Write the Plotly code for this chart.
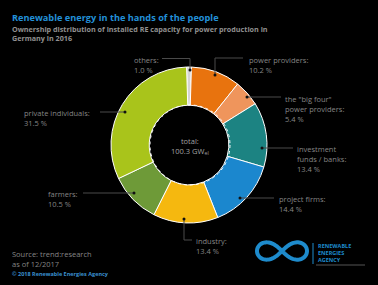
import numpy as np
import plotly.graph_objects as go

W, H = 378, 285

# ---- data ----
categories = ["others", "power providers", "the \"big four\"<br>power providers",
              "investment<br>funds / banks", "project firms", "industry",
              "farmers", "private individuals"]
shares = [1.0, 10.2, 5.4, 13.4, 14.4, 13.4, 10.5, 31.5]
share_labels = ["1.0 %", "10.2 %", "5.4 %", "13.4 %", "14.4 %", "13.4 %", "10.5 %", "31.5 %"]
colors = ["#d4d4d4", "#e8730e", "#ef955c", "#1c8382", "#1b87ce", "#f5b80f", "#6e9a38", "#a9c41b"]
total_label = "100.3 GW<sub>el</sub>"

def px(x):
    return x / W

def py(y):
    return 1 - y / H

cx, cy, R = 189, 145, 78

fig = go.Figure()
fig.add_trace(go.Pie(
    labels=categories, values=shares, sort=False, direction="clockwise",
    rotation=-1.8, hole=0.51, textinfo="none", hoverinfo="none",
    marker=dict(colors=colors, line=dict(color="#ffffff", width=1)),
    domain=dict(x=[px(cx - R), px(cx + R)], y=[py(cy + R), py(cy - R)]),
    showlegend=False,
))

TXT = "#858585"
FONT = "Open Sans"
ann = []
shapes = []

def label(x, y, text, size=7.5, color=TXT, anchor="left", bold=False):
    if bold:
        text = "<b>" + text + "</b>"
    ann.append(dict(x=px(x), y=py(y), xref="paper", yref="paper", text=text,
                    showarrow=False, xanchor=anchor, yanchor="top", align=anchor,
                    font=dict(family=FONT, size=size, color=color)))

def line(pts, color="#4a4a4a", width=1):
    for (x0, y0), (x1, y1) in zip(pts[:-1], pts[1:]):
        shapes.append(dict(type="line", xref="paper", yref="paper",
                           x0=px(x0), y0=py(y0), x1=px(x1), y1=py(y1),
                           line=dict(color=color, width=width)))

def dot(x, y, r=1.5):
    shapes.append(dict(type="circle", xref="paper", yref="paper",
                       x0=px(x - r), x1=px(x + r), y0=py(y + r), y1=py(y - r),
                       fillcolor="#111111", line=dict(width=0)))

# title
label(10, 9, "Renewable energy in the hands of the people", size=9.2, color="#2390d8", bold=True)
label(10, 22, "Ownership distribution of installed RE capacity for power production in<br>Germany in 2016",
      size=7.2, color="#909090", bold=True)

# slice labels and leaders
label(132, 53, categories[0] + ":<br>" + share_labels[0])
line([(162, 58.5), (190, 58.5), (190, 70)]); dot(190, 70)

label(247, 53, categories[1] + ":<br>" + share_labels[1])
line([(243, 58), (215, 58), (215, 75)]); dot(215, 75)

label(283, 92, categories[2] + ":<br>" + share_labels[2])
line([(281, 97), (247, 97)]); dot(247, 97)

label(295, 142, categories[3] + ":<br>" + share_labels[3])
line([(293, 148), (262, 148)]); dot(262, 148)

label(277, 192, categories[4] + ":<br>" + share_labels[4])
line([(274, 198), (240, 198)]); dot(240, 198)

label(194, 234, categories[5] + ":<br>" + share_labels[5])
line([(192, 240), (184, 240), (184, 219)]); dot(184, 219)

label(46, 187, categories[6] + ":<br>" + share_labels[6])
line([(83, 193), (134, 193)]); dot(134, 193)

label(22, 106, categories[7] + ":<br>" + share_labels[7])
line([(100, 112), (125, 112)]); dot(125, 112)

# center
ann.append(dict(x=px(190), y=py(146), xref="paper", yref="paper",
                text="total:<br>" + total_label, showarrow=False,
                xanchor="center", yanchor="middle", align="center",
                font=dict(family=FONT, size=7.5, color="#a0a0a0")))
# dashed hole outline
hr = 40
shapes.append(dict(type="circle", xref="paper", yref="paper",
                   x0=px(cx + 1 - hr), x1=px(cx + 1 + hr), y0=py(cy + hr), y1=py(cy - hr),
                   line=dict(color="#ffffff", width=1, dash="dot")))

# source
label(10, 247, "Source: trend:research<br>as of 12/2017", size=7.5, color=TXT)
label(10, 268, "© 2018 Renewable Energies Agency", size=5.5, color="#3a8fcf", bold=True)

# logo: infinity symbol
t = np.linspace(0, 2 * np.pi, 120)
a = 25
lx = 282 + a * np.cos(t) / (1 + np.sin(t) ** 2)
ly = 251 + 0.98 * a * np.sin(t) * np.cos(t) / (1 + np.sin(t) ** 2)
path = "M " + " L ".join(f"{px(x):.5f},{py(y):.5f}" for x, y in zip(lx, ly)) + " Z"
shapes.append(dict(type="path", xref="paper", yref="paper", path=path,
                   line=dict(color="#1e8bcc", width=4)))
line([(313, 243), (313, 264)], color="#1e8bcc", width=1)
label(316, 240, "RENEWABLE<br>ENERGIES<br>AGENCY", size=5.5, color="#1e8bcc", bold=True)
line([(316, 265), (365, 265)], color="#555555", width=1)

fig.update_layout(width=W, height=H, margin=dict(l=0, r=0, t=0, b=0),
                  paper_bgcolor="#000000", plot_bgcolor="#000000",
                  annotations=ann, shapes=shapes)
fig.write_html("out.html")
